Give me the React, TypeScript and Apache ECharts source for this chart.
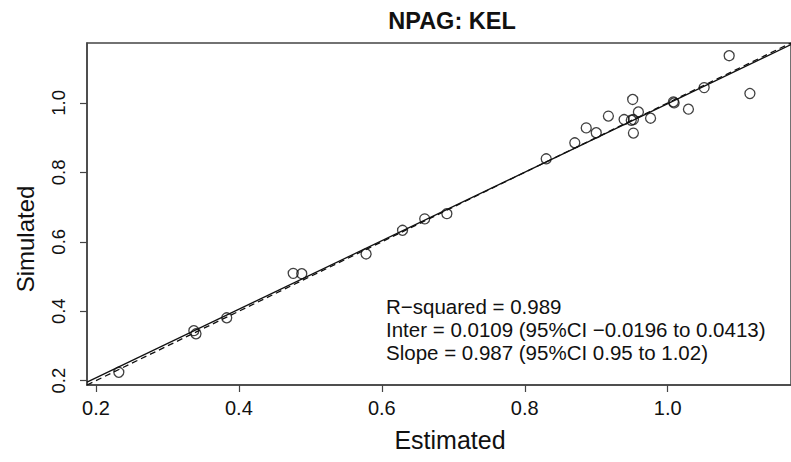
import React, { useEffect, useRef } from "react";
import * as echarts from "echarts";

const estimated = [
  0.232, 0.337, 0.340, 0.383, 0.476, 0.488, 0.578, 0.629, 0.660, 0.691,
  0.830, 0.870, 0.886, 0.900, 0.917, 0.939, 0.949, 0.952, 0.951, 0.959,
  0.952, 0.976, 1.008, 1.009, 1.029, 1.051, 1.086, 1.115,
];
const simulated = [
  0.224, 0.344, 0.335, 0.381, 0.509, 0.508, 0.565, 0.633, 0.666, 0.681,
  0.839, 0.885, 0.928, 0.914, 0.962, 0.952, 0.950, 0.952, 1.010, 0.974,
  0.913, 0.956, 1.003, 1.000, 0.982, 1.044, 1.136, 1.027,
];
const xTicks = [0.2, 0.4, 0.6, 0.8, 1.0];
const yTicks = [0.2, 0.4, 0.6, 0.8, 1.0];
const intercept = 0.0109;
const slope = 0.987;
const axisMin = 0.1875;
const axisMax = 1.1725;
const titleText = "NPAG: KEL";
const xName = "Estimated";
const yName = "Simulated";
const statLines = [
  "R\u2212squared = 0.989",
  "Inter = 0.0109 (95%CI \u22120.0196 to 0.0413)",
  "Slope = 0.987 (95%CI 0.95 to 1.02)",
];

const FONT = "'Liberation Sans', Arial, Helvetica, sans-serif";

export default function App() {
  const ref = useRef<HTMLDivElement>(null);
  useEffect(() => {
    if (!ref.current) return;
    const chart = echarts.init(ref.current, null, { renderer: "svg" });
    const points = estimated.map((x, i) => [x, simulated[i]]);
    const fitLine = [
      [axisMin, intercept + slope * axisMin],
      [axisMax, intercept + slope * axisMax],
    ];
    const idLine = [
      [axisMin, axisMin],
      [axisMax, axisMax],
    ];
    const axisColor = "#444";
    chart.setOption({
      animation: false,
      backgroundColor: "#fff",
      grid: {
        left: 87,
        top: 43,
        width: 713,
        height: 342,
        show: true,
        borderColor: axisColor,
        borderWidth: 1.5,
        backgroundColor: "transparent",
      },
      xAxis: {
        type: "value",
        min: axisMin,
        max: axisMax,
        splitLine: { show: false },
        axisLine: { show: true, onZero: false, lineStyle: { color: axisColor, width: 1.5 } },
        axisTick: {
          show: true,
          length: 7,
          customValues: xTicks,
          lineStyle: { color: axisColor, width: 1.2 },
        },
        axisLabel: {
          customValues: xTicks,
          formatter: (v: number) => v.toFixed(1),
          fontFamily: FONT,
          fontSize: 20,
          color: "#111",
          margin: 13,
        },
      },
      yAxis: {
        type: "value",
        min: axisMin,
        max: axisMax,
        splitLine: { show: false },
        axisLine: { show: true, onZero: false, lineStyle: { color: axisColor, width: 1.5 } },
        axisTick: {
          show: true,
          length: 7,
          customValues: yTicks,
          lineStyle: { color: axisColor, width: 1.2 },
        },
        axisLabel: {
          customValues: yTicks,
          formatter: (v: number) => v.toFixed(1),
          rotate: 90,
          fontFamily: FONT,
          fontSize: 18.5,
          color: "#111",
          margin: 19,
        },
      },
      graphic: [
        {
          type: "text",
          x: 452,
          y: 21,
          style: {
            text: titleText,
            fontFamily: FONT,
            fontWeight: "bold",
            fontSize: 23.5,
            fill: "#111",
            textAlign: "center",
            textVerticalAlign: "middle",
          },
        },
        {
          type: "text",
          x: 450,
          y: 440,
          style: {
            text: xName,
            fontFamily: FONT,
            fontSize: 25,
            fill: "#111",
            textAlign: "center",
            textVerticalAlign: "middle",
          },
        },
        {
          type: "text",
          x: 25,
          y: 239,
          rotation: Math.PI / 2,
          style: {
            text: yName,
            fontFamily: FONT,
            fontSize: 24,
            fill: "#111",
            textAlign: "center",
            textVerticalAlign: "middle",
          },
        },
        ...statLines.map((t, i) => ({
          type: "text",
          x: 386,
          y: 306 + i * 23.3,
          style: {
            text: t,
            fontFamily: FONT,
            fontSize: 20.5,
            fill: "#111",
            textAlign: "left",
            textVerticalAlign: "middle",
          },
        })),
      ],
      series: [
        {
          type: "line",
          data: idLine,
          symbol: "none",
          clip: true,
          lineStyle: { color: "#111", width: 1.3, type: [6, 4] },
          z: 2,
        },
        {
          type: "line",
          data: fitLine,
          symbol: "none",
          clip: true,
          lineStyle: { color: "#111", width: 1.3 },
          z: 3,
        },
        {
          type: "scatter",
          data: points,
          symbol: "circle",
          symbolSize: 10,
          itemStyle: { color: "rgba(0,0,0,0)", borderColor: "#111", borderWidth: 1.3 },
          z: 4,
        },
      ],
    });
    return () => chart.dispose();
  }, []);
  return (
    <div
      ref={ref}
      style={{ position: "absolute", left: 0, top: 0, width: 791, height: 462 }}
    />
  );
}
